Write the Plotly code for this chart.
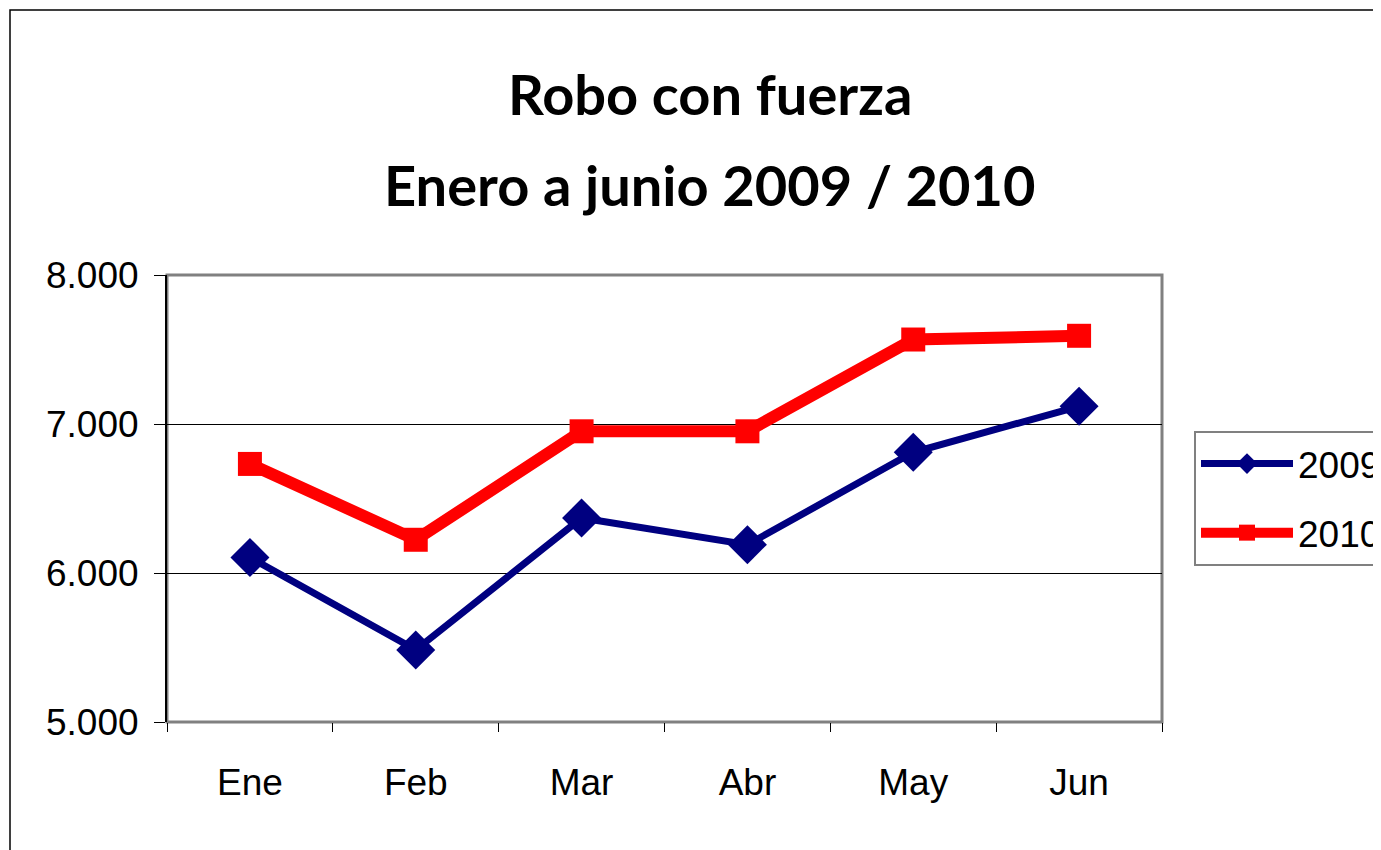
import plotly.graph_objects as go

months = ["Ene", "Feb", "Mar", "Abr", "May", "Jun"]
v2009 = [6104, 5484, 6369, 6190, 6810, 7119]
v2010 = [6732, 6223, 6951, 6951, 7567, 7592]
title_line1 = "Robo con fuerza"
title_line2 = "Enero a junio 2009 / 2010"

OFF = 8  # browser body margin
W, H = 1381, 850
L, T = 167 - OFF, 275 - OFF
R, B = W - (1162 - OFF), H - (722 - OFF)
pw, ph = W - L - R, H - T - B

def px(x):
    return (x - OFF - L) / pw

def py(y):
    return (H - B - (y - OFF)) / ph

fig = go.Figure()
fig.add_trace(go.Scatter(
    x=months, y=v2009, name="2009", mode="lines+markers", legendgroup="a",
    line=dict(color="#000080", width=7),
    marker=dict(symbol="diamond", size=30, color="#000080"),
))
fig.add_trace(go.Scatter(
    x=months, y=v2010, name="2010", mode="lines+markers", legendgroup="b",
    line=dict(color="#FF0000", width=12),
    marker=dict(symbol="square", size=24, color="#FF0000"),
))

font_lab = "Liberation Sans, Arial, sans-serif"
fig.update_layout(
    width=W, height=H,
    margin=dict(l=L, r=R, t=T, b=B, pad=0, autoexpand=False),
    paper_bgcolor="white", plot_bgcolor="white",
    separators=",.",
    showlegend=True,
    legend=dict(
        x=px(1194), y=py(431), xanchor="left", yanchor="top",
        bordercolor="#808080", borderwidth=2, bgcolor="white",
        font=dict(family=font_lab, size=37, color="black"),
        itemwidth=92, tracegroupgap=18, traceorder="grouped",
    ),
    xaxis=dict(
        type="category", range=[-0.5, 5.5], showgrid=False,
        ticks="outside", tickson="boundaries", ticklen=9, tickcolor="black", tickwidth=1,
        showline=False, zeroline=False, ticklabelstandoff=35,
        tickfont=dict(family=font_lab, size=37, color="black"),
    ),
    yaxis=dict(
        range=[5000, 8000], tickvals=[5000, 6000, 7000, 8000], tickformat=",.0f",
        showgrid=True, gridcolor="black", gridwidth=1,
        ticks="outside", ticklen=11, tickcolor="black", tickwidth=1,
        showline=True, linecolor="black", linewidth=2, zeroline=False,
        ticklabelstandoff=8,
        tickfont=dict(family=font_lab, size=37, color="black"),
    ),
    shapes=[
        dict(type="rect", xref="paper", yref="paper", x0=0, x1=1, y0=0, y1=1,
             line=dict(color="#808080", width=3), layer="below"),
        dict(type="rect", xref="paper", yref="paper", x0=px(10), x1=px(1420), y0=py(880), y1=py(10),
             line=dict(color="black", width=1.5), layer="below"),
    ],
    annotations=[
        dict(text="<b>" + title_line1 + "</b>", xref="paper", yref="paper", x=px(710), y=py(93),
             xanchor="center", yanchor="middle", showarrow=False,
             font=dict(family="Lato, sans-serif", size=56, color="black")),
        dict(text="<b>" + title_line2 + "</b>", xref="paper", yref="paper", x=px(710), y=py(184),
             xanchor="center", yanchor="middle", showarrow=False,
             font=dict(family="Lato, sans-serif", size=56, color="black")),
    ],
)

fig.write_html("out.html")
